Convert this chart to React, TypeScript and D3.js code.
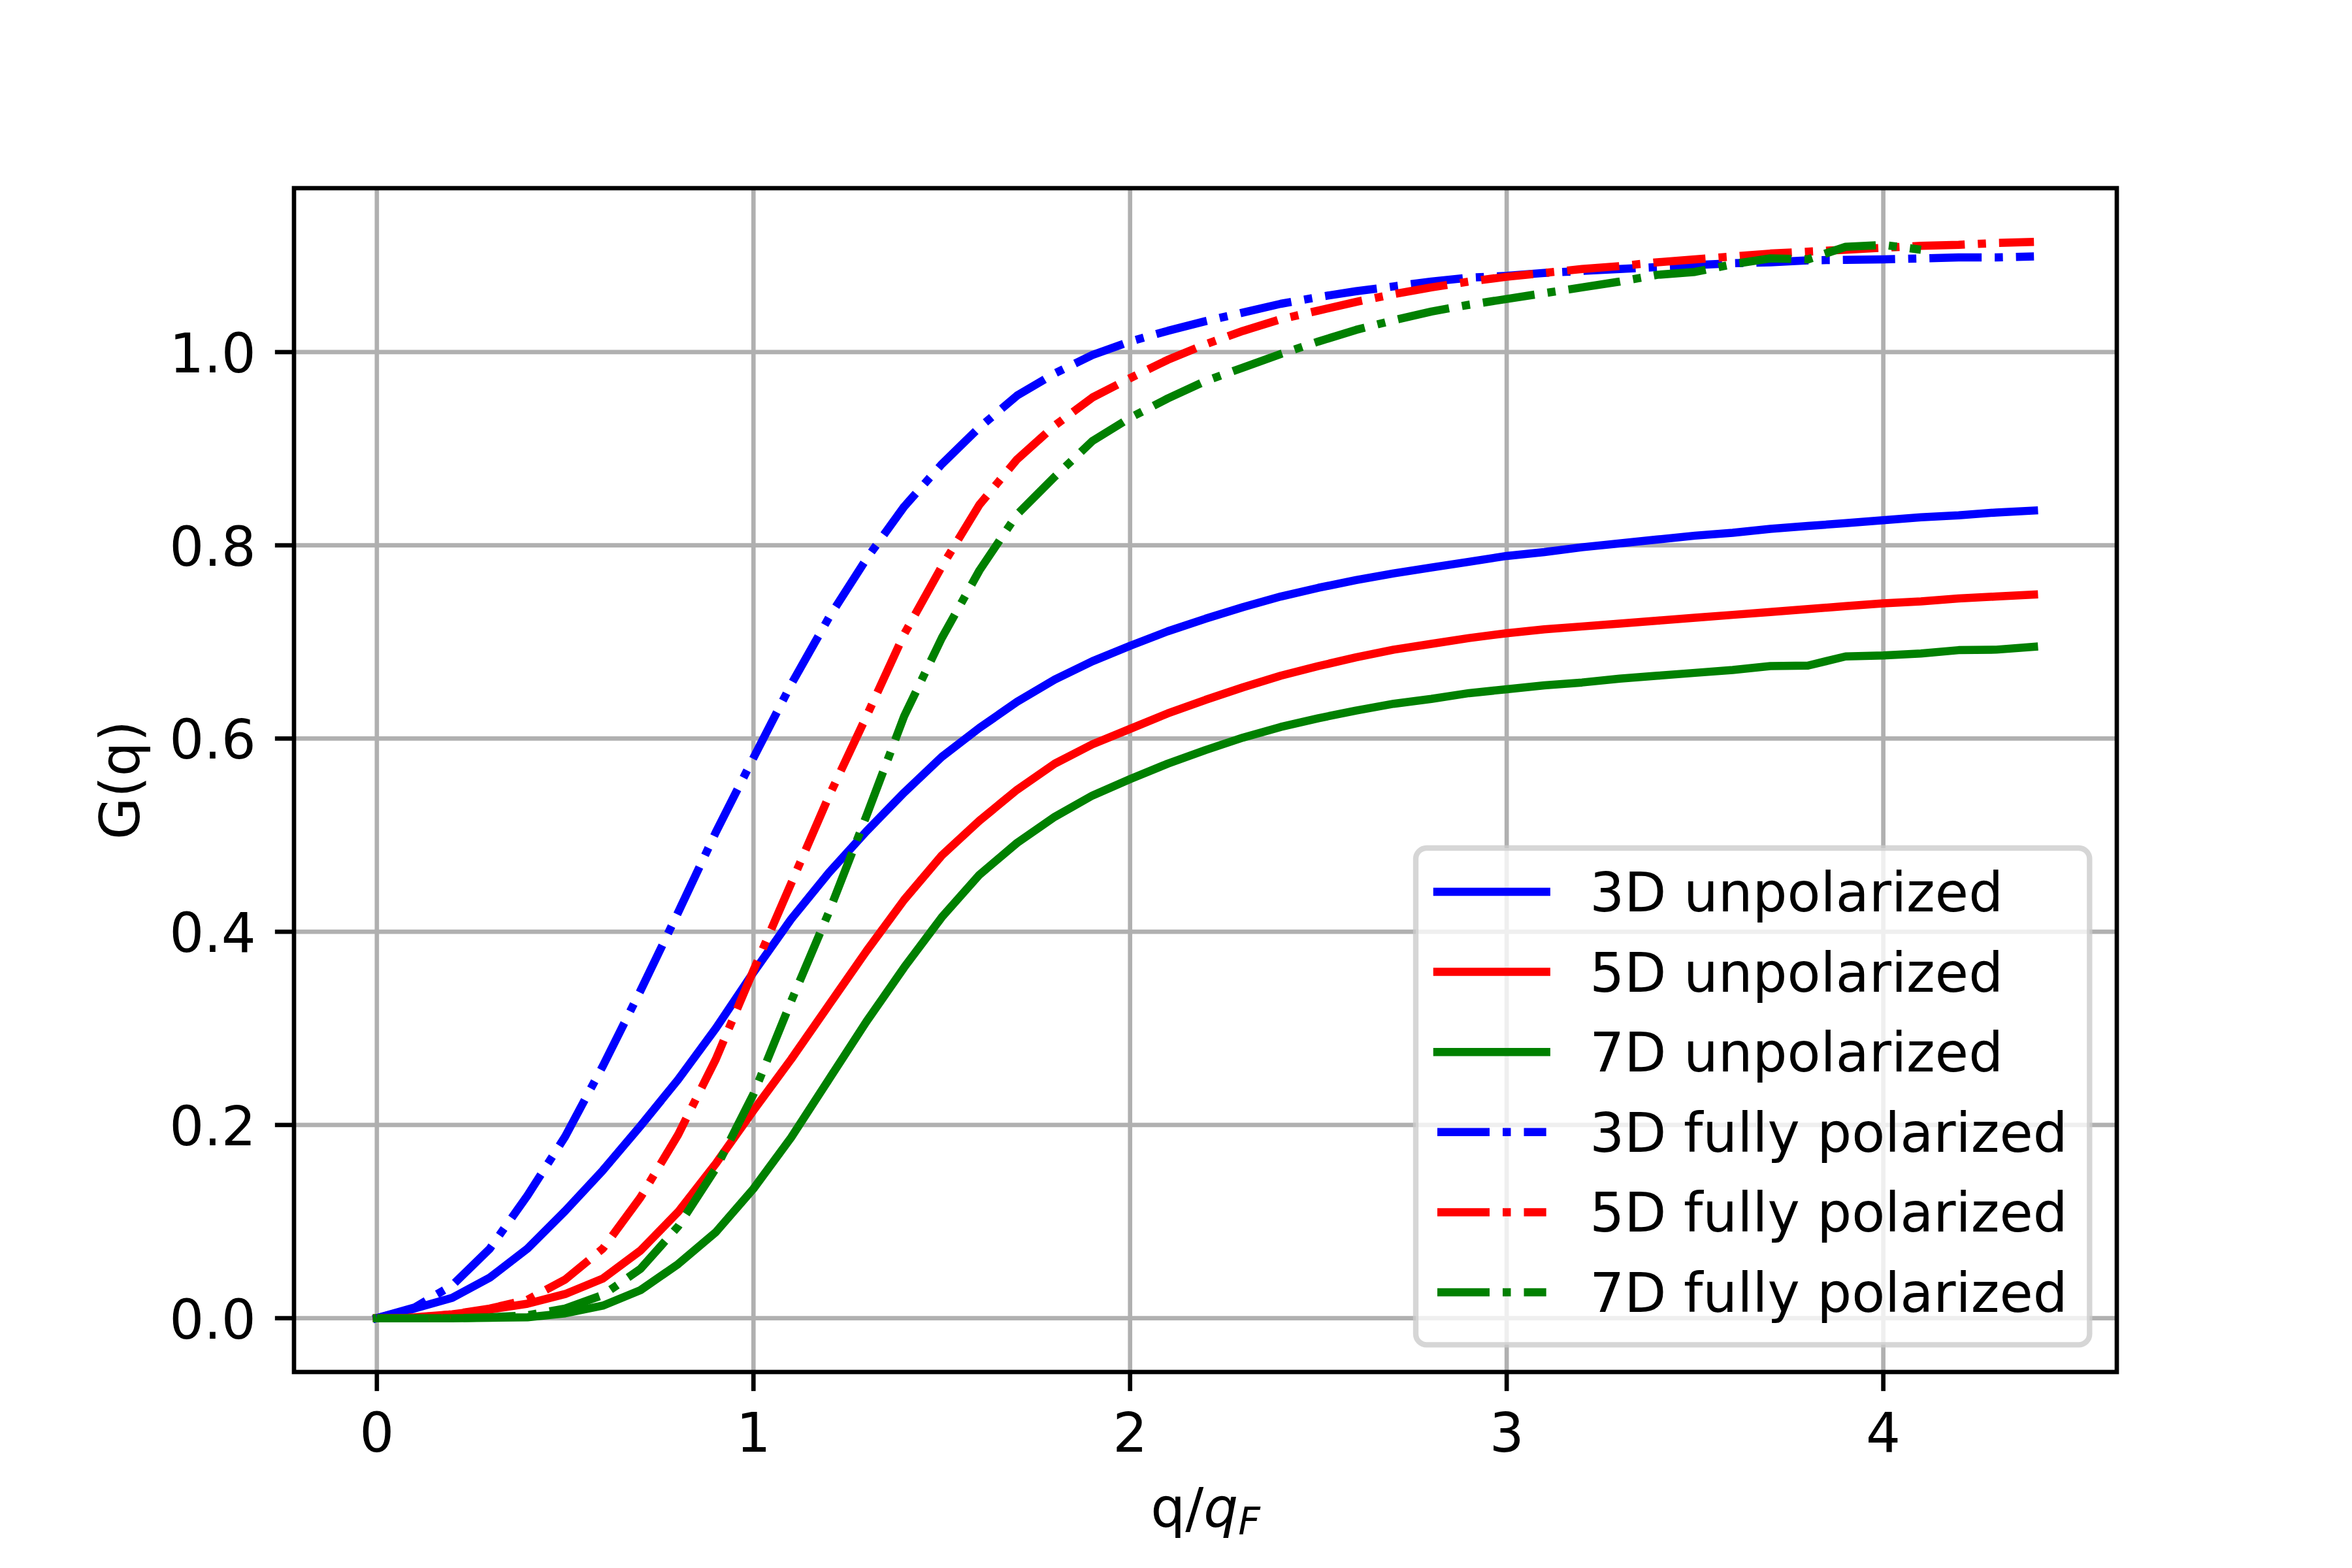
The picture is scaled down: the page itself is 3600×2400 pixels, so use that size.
import React from 'react';
import * as d3 from 'd3';

// q / q_F sample points
const qGrid = [
  0, 0.1, 0.2, 0.3, 0.4, 0.5, 0.6, 0.7, 0.8, 0.9,
  1.0, 1.1, 1.2, 1.3, 1.4, 1.5, 1.6, 1.7, 1.8, 1.9,
  2.0, 2.1, 2.2, 2.3, 2.4, 2.5, 2.6, 2.7, 2.8, 2.9,
  3.0, 3.1, 3.2, 3.3, 3.4, 3.5, 3.6, 3.7, 3.8, 3.9,
  4.0, 4.1, 4.2, 4.3, 4.4,
];

const g3DUnpolarized = [
  0, 0.010, 0.021, 0.042, 0.072, 0.111, 0.153, 0.199, 0.247, 0.300,
  0.358, 0.413, 0.461, 0.504, 0.544, 0.581, 0.611, 0.638, 0.661, 0.680,
  0.696, 0.711, 0.724, 0.736, 0.747, 0.756, 0.764, 0.771, 0.777, 0.783,
  0.789, 0.793, 0.798, 0.802, 0.806, 0.810, 0.813, 0.817, 0.820, 0.823,
  0.826, 0.829, 0.831, 0.834, 0.836,
];

const g5DUnpolarized = [
  0, 0.001, 0.004, 0.009, 0.015, 0.025, 0.041, 0.070, 0.110, 0.160,
  0.215, 0.268, 0.324, 0.380, 0.433, 0.479, 0.515, 0.547, 0.574, 0.594,
  0.610, 0.626, 0.640, 0.653, 0.665, 0.675, 0.684, 0.692, 0.698, 0.704,
  0.709, 0.713, 0.716, 0.719, 0.722, 0.725, 0.728, 0.731, 0.734, 0.737,
  0.740, 0.742, 0.745, 0.747, 0.749,
];

const g7DUnpolarized = [
  0, 0, 0, 0.0005, 0.001, 0.005, 0.013, 0.029, 0.056, 0.089,
  0.134, 0.187, 0.247, 0.307, 0.363, 0.415, 0.459, 0.492, 0.519, 0.541,
  0.558, 0.574, 0.588, 0.601, 0.612, 0.621, 0.629, 0.636, 0.641, 0.647,
  0.651, 0.655, 0.658, 0.662, 0.665, 0.668, 0.671, 0.675, 0.6755, 0.685,
  0.686, 0.688, 0.6915, 0.692, 0.695,
];

const g3DPolarized = [
  0, 0.011, 0.034, 0.072, 0.127, 0.188, 0.261, 0.339, 0.420, 0.503,
  0.580, 0.656, 0.725, 0.786, 0.840, 0.884, 0.922, 0.955, 0.978, 0.997,
  1.011, 1.022, 1.032, 1.041, 1.050, 1.057, 1.063, 1.068, 1.073, 1.077,
  1.079, 1.082, 1.084, 1.086, 1.088, 1.090, 1.092, 1.093, 1.095, 1.0955,
  1.096, 1.097, 1.098, 1.098, 1.099,
];

const g5DPolarized = [
  0, 0.0005, 0.004, 0.010, 0.019, 0.040, 0.072, 0.125, 0.190, 0.268,
  0.360, 0.450, 0.540, 0.623, 0.708, 0.778, 0.842, 0.889, 0.924, 0.953,
  0.973, 0.992, 1.008, 1.022, 1.034, 1.043, 1.052, 1.060, 1.067, 1.073,
  1.078, 1.082, 1.086, 1.089, 1.093, 1.096, 1.099, 1.102, 1.104, 1.106,
  1.108, 1.110, 1.111, 1.113, 1.114,
];

// this one stops at q/q_F = 4.1
const g7DPolarized = [
  0, 0, 0, 0.001, 0.003, 0.010, 0.024, 0.051, 0.095, 0.155,
  0.232, 0.328, 0.420, 0.520, 0.623, 0.704, 0.774, 0.832, 0.871, 0.908,
  0.932, 0.952, 0.970, 0.984, 0.998, 1.011, 1.023, 1.033, 1.042, 1.049,
  1.055, 1.061, 1.067, 1.073, 1.080, 1.083, 1.091, 1.097, 1.096, 1.109,
  1.111, 1.106,
];

const xTicks = [0, 1, 2, 3, 4];
const yTicks = [0.0, 0.2, 0.4, 0.6, 0.8, 1.0];

const seriesList = [
  { label: '3D unpolarized', values: g3DUnpolarized, color: '#0000ff', dashed: false },
  { label: '5D unpolarized', values: g5DUnpolarized, color: '#ff0000', dashed: false },
  { label: '7D unpolarized', values: g7DUnpolarized, color: '#008000', dashed: false },
  { label: '3D fully polarized', values: g3DPolarized, color: '#0000ff', dashed: true },
  { label: '5D fully polarized', values: g5DPolarized, color: '#ff0000', dashed: true },
  { label: '7D fully polarized', values: g7DPolarized, color: '#008000', dashed: true },
];

const WIDTH = 3600;
const HEIGHT = 2400;
const PT = 600 / 72; // px per point at 600 dpi
const FONT = 10 * PT;
const FAMILY = '"DejaVu Sans", sans-serif';
const DASH_DOT = [6.4, 1.6, 1.0, 1.6].map((d) => d * 1.5 * PT).join(',');

export default function App() {
  const margin = { left: 450, right: 3240, top: 288, bottom: 2100 };

  const xScale = d3.scaleLinear().domain([-0.22, 4.62]).range([margin.left, margin.right]);
  const yMax = d3.max(seriesList, (s) => d3.max(s.values)) as number;
  const yPad = yMax * 0.05;
  const yScale = d3.scaleLinear().domain([-yPad, yMax + yPad]).range([margin.bottom, margin.top]);

  const lineGen = d3
    .line<number>()
    .x((_, i) => xScale(qGrid[i]))
    .y((d) => yScale(d));

  const lw = 1.5 * PT;
  const gridW = 0.8 * PT;
  const tickLen = 3.5 * PT;

  // legend layout (lower right)
  const legRight = margin.right - 0.5 * FONT;
  const legBottom = margin.bottom - 0.5 * FONT;
  const legLeft = 2167;
  const legTop = 1298;
  const rowGap = 122.6;
  const firstRow = 1365;
  const handleX0 = 2200;
  const handleX1 = handleX0 + 2 * FONT;
  const textX = handleX1 + 0.8 * FONT;

  return (
    <>
      <style>{'body{margin:0}'}</style>
      <svg width={WIDTH} height={HEIGHT} style={{ display: 'block', background: '#fff' }} fontFamily={FAMILY}>
        <defs>
          <clipPath id="plotArea">
            <rect x={margin.left} y={margin.top} width={margin.right - margin.left} height={margin.bottom - margin.top} />
          </clipPath>
        </defs>
        <rect x={0} y={0} width={WIDTH} height={HEIGHT} fill="#fff" />

        {/* grid */}
        {xTicks.map((t) => (
          <line key={`gx${t}`} x1={xScale(t)} x2={xScale(t)} y1={margin.top} y2={margin.bottom} stroke="#b0b0b0" strokeWidth={gridW} />
        ))}
        {yTicks.map((t) => (
          <line key={`gy${t}`} x1={margin.left} x2={margin.right} y1={yScale(t)} y2={yScale(t)} stroke="#b0b0b0" strokeWidth={gridW} />
        ))}

        {/* curves */}
        <g clipPath="url(#plotArea)">
          {seriesList.map((s) => (
            <path
              key={s.label}
              d={lineGen(s.values) || ''}
              fill="none"
              stroke={s.color}
              strokeWidth={lw}
              strokeLinejoin="round"
              strokeLinecap={s.dashed ? 'butt' : 'square'}
              strokeDasharray={s.dashed ? DASH_DOT : undefined}
            />
          ))}
        </g>

        {/* spines */}
        <rect
          x={margin.left}
          y={margin.top}
          width={margin.right - margin.left}
          height={margin.bottom - margin.top}
          fill="none"
          stroke="#000"
          strokeWidth={gridW}
          strokeLinejoin="miter"
        />

        {/* x ticks */}
        {xTicks.map((t) => (
          <g key={`xt${t}`}>
            <line x1={xScale(t)} x2={xScale(t)} y1={margin.bottom} y2={margin.bottom + tickLen} stroke="#000" strokeWidth={gridW} />
            <text x={xScale(t)} y={margin.bottom + 122} fontSize={FONT} textAnchor="middle" fill="#000">
              {t}
            </text>
          </g>
        ))}

        {/* y ticks */}
        {yTicks.map((t) => (
          <g key={`yt${t}`}>
            <line x1={margin.left - tickLen} x2={margin.left} y1={yScale(t)} y2={yScale(t)} stroke="#000" strokeWidth={gridW} />
            <text x={margin.left - tickLen - 3.5 * PT} y={yScale(t) + 31} fontSize={FONT} textAnchor="end" fill="#000">
              {t.toFixed(1)}
            </text>
          </g>
        ))}

        {/* axis labels */}
        <text x={(margin.left + margin.right) / 2} y={2337} fontSize={FONT} textAnchor="middle" fill="#000">
          <tspan>q/</tspan>
          <tspan fontStyle="italic">q</tspan>
          <tspan fontStyle="italic" fontSize={FONT * 0.7} dy={12}>F</tspan>
        </text>
        <text
          transform={`translate(213,${(margin.top + margin.bottom) / 2}) rotate(-90)`}
          fontSize={FONT}
          textAnchor="middle"
          fill="#000"
        >
          G(q)
        </text>

        {/* legend */}
        <rect
          x={legLeft}
          y={legTop}
          width={legRight - legLeft}
          height={legBottom - legTop}
          rx={0.2 * FONT}
          ry={0.2 * FONT}
          fill="#fff"
          fillOpacity={0.8}
          stroke="#cccccc"
          strokeOpacity={0.8}
          strokeWidth={1.0 * PT}
        />
        {seriesList.map((s, i) => {
          const y = firstRow + i * rowGap;
          return (
            <g key={`leg${s.label}`}>
              <line
                x1={handleX0}
                x2={handleX1}
                y1={y}
                y2={y}
                stroke={s.color}
                strokeWidth={lw}
                strokeLinecap={s.dashed ? 'butt' : 'square'}
                strokeDasharray={s.dashed ? DASH_DOT : undefined}
              />
              <text x={textX} y={y + 30} fontSize={FONT} fill="#000">
                {s.label}
              </text>
            </g>
          );
        })}
      </svg>
    </>
  );
}
